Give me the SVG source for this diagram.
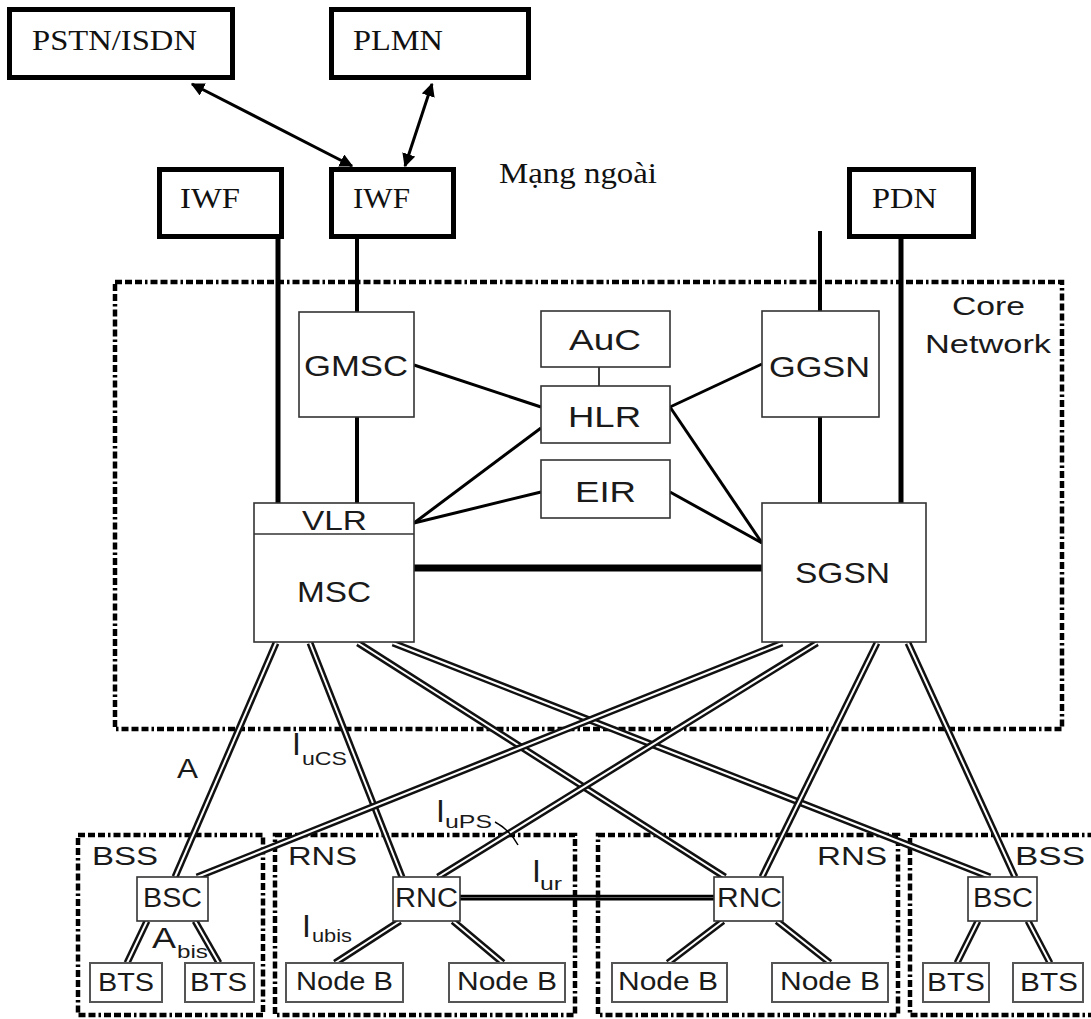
<svg xmlns="http://www.w3.org/2000/svg" width="1091" height="1019" viewBox="0 0 1091 1019">
<defs>
<style>
.ext { fill:#fff; stroke:#000; stroke-width:5; }
.serif { font-family:"Liberation Serif","Times New Roman",serif; font-size:29px; fill:#111; }
.sans { font-family:"Liberation Sans",Arial,sans-serif; fill:#1a1a1a; }
.big { font-size:30px; }
.mid { font-size:27px; }
.lbl { font-size:26px; }
.sub { font-size:18px; }
.iface { font-size:32px; }
.node { fill:#fff; stroke:#333; stroke-width:1.6; }
.leaf { fill:#fff; stroke:#555; stroke-width:2; }
.zone { fill:none; stroke:#000; stroke-width:4.5; stroke-dasharray:7 3 7 3 7 3 2.5 3; }
.link { stroke:#000; fill:none; }
.rail-o { stroke:#111; stroke-width:7; fill:none; }
.rail-i { stroke:#fff; stroke-width:2; fill:none; }
</style>
<marker id="ah" viewBox="0 0 10 10" refX="9" refY="5" markerWidth="4.5" markerHeight="4.5" orient="auto-start-reverse">
<path d="M0,0 L10,5 L0,10 z" fill="#000"/>
</marker>
<!-- rail (double-line) interfaces -->
<path id="r1" d="M276,643 L175,877"/>
<path id="r2" d="M310,643 L402,877"/>
<path id="r3" d="M358,643 L725,877"/>
<path id="r4" d="M393,643 L990,877"/>
<path id="r5" d="M782,643 L197,877"/>
<path id="r6" d="M817,643 L438,877"/>
<path id="r7" d="M877,643 L762,877"/>
<path id="r8" d="M908,643 L1015,877"/>
<path id="b1" d="M147,921 L127,963"/>
<path id="b2" d="M195,921 L219,963"/>
<path id="b3" d="M400,921 L335,963"/>
<path id="b4" d="M453,921 L503,963"/>
<path id="b5" d="M723,921 L668,963"/>
<path id="b6" d="M777,921 L830,963"/>
<path id="b7" d="M978,921 L957,963"/>
<path id="b8" d="M1028,921 L1050,963"/>
</defs>

<rect width="1091" height="1019" fill="#fff"/>

<!-- domain boundaries -->
<g id="zones">
<rect class="zone" x="115" y="282" width="947" height="447"/>
<rect class="zone" x="78" y="835" width="185" height="180"/>
<rect class="zone" x="275" y="835" width="300" height="180"/>
<rect class="zone" x="598" y="835" width="300" height="180"/>
<rect class="zone" x="910" y="835" width="190" height="180"/>
<text class="sans lbl" x="952" y="315" textLength="73" lengthAdjust="spacingAndGlyphs">Core</text>
<text class="sans lbl" x="925" y="353" textLength="126" lengthAdjust="spacingAndGlyphs">Network</text>
<text class="sans lbl" x="92" y="865" textLength="66" lengthAdjust="spacingAndGlyphs">BSS</text>
<text class="sans lbl" x="288" y="865" textLength="69" lengthAdjust="spacingAndGlyphs">RNS</text>
<text class="sans lbl" x="817" y="865" textLength="70" lengthAdjust="spacingAndGlyphs">RNS</text>
<text class="sans lbl" x="1015" y="865" textLength="70" lengthAdjust="spacingAndGlyphs">BSS</text>
<text class="serif" x="499" y="183" textLength="158" lengthAdjust="spacingAndGlyphs">Mạng ngoài</text>
</g>

<!-- connectors -->
<g id="connectors">
<path class="link" stroke-width="3" marker-start="url(#ah)" marker-end="url(#ah)" d="M192,84 L352,166"/>
<path class="link" stroke-width="3" marker-start="url(#ah)" marker-end="url(#ah)" d="M432,84 L405,166"/>
<path class="link" stroke-width="5" d="M278,239 V503"/>
<path class="link" stroke-width="4" d="M357,239 V312"/>
<path class="link" stroke-width="4" d="M357,417 V503"/>
<path class="link" stroke-width="4" d="M820,231 V311"/>
<path class="link" stroke-width="4" d="M820,417 V503"/>
<path class="link" stroke-width="5" d="M901,239 V503"/>
<path class="link" stroke-width="3" d="M414,365 L541,407"/>
<path class="link" stroke-width="3" d="M541,428 L414,523"/>
<path class="link" stroke-width="3" d="M541,492 L414,523"/>
<path class="link" stroke-width="3" d="M670,407 L762,364"/>
<path class="link" stroke-width="3" d="M670,407 L762,543"/>
<path class="link" stroke-width="3" d="M670,492 L762,543"/>
<path class="link" stroke-width="1.5" d="M599,367 V386"/>
<path class="link" stroke-width="7" d="M414,568 H762"/>
<!-- Iur -->
<path class="link" stroke="#777" stroke-width="3" d="M460,899 H714"/>
<path class="link" stroke-width="2.5" d="M460,896 H714"/>
<!-- rails -->
<use href="#r1" class="rail-o"/><use href="#r1" class="rail-i"/>
<use href="#r2" class="rail-o"/><use href="#r2" class="rail-i"/>
<use href="#r3" class="rail-o"/><use href="#r3" class="rail-i"/>
<use href="#r4" class="rail-o"/><use href="#r4" class="rail-i"/>
<use href="#r5" class="rail-o"/><use href="#r5" class="rail-i"/>
<use href="#r6" class="rail-o"/><use href="#r6" class="rail-i"/>
<use href="#r7" class="rail-o"/><use href="#r7" class="rail-i"/>
<use href="#r8" class="rail-o"/><use href="#r8" class="rail-i"/>
<use href="#b1" class="rail-o"/><use href="#b1" class="rail-i"/>
<use href="#b2" class="rail-o"/><use href="#b2" class="rail-i"/>
<use href="#b3" class="rail-o"/><use href="#b3" class="rail-i"/>
<use href="#b4" class="rail-o"/><use href="#b4" class="rail-i"/>
<use href="#b5" class="rail-o"/><use href="#b5" class="rail-i"/>
<use href="#b6" class="rail-o"/><use href="#b6" class="rail-i"/>
<use href="#b7" class="rail-o"/><use href="#b7" class="rail-i"/>
<use href="#b8" class="rail-o"/><use href="#b8" class="rail-i"/>
<!-- leader for IuPS -->
<path class="link" stroke-width="1.5" d="M495,822 Q510,830 518,845"/>
<!-- interface labels -->
<text class="sans" style="font-size:28px" x="177" y="778" textLength="21" lengthAdjust="spacingAndGlyphs">A</text>
<text class="sans"><tspan class="iface" x="292" y="755">I</tspan><tspan class="sub" x="302" y="765" textLength="45" lengthAdjust="spacingAndGlyphs">uCS</tspan></text>
<text class="sans"><tspan class="iface" x="436" y="822">I</tspan><tspan class="sub" x="445" y="828" textLength="47" lengthAdjust="spacingAndGlyphs">uPS</tspan></text>
<text class="sans"><tspan class="iface" x="532" y="882">I</tspan><tspan class="sub" x="540" y="890" textLength="22" lengthAdjust="spacingAndGlyphs">ur</tspan></text>
<text class="sans"><tspan class="iface" x="302" y="937">I</tspan><tspan class="sub" x="312" y="942" textLength="40" lengthAdjust="spacingAndGlyphs">ubis</tspan></text>
<text class="sans"><tspan style="font-size:29px" x="152" y="948" textLength="24" lengthAdjust="spacingAndGlyphs">A</tspan><tspan class="sub" x="177" y="958" textLength="31" lengthAdjust="spacingAndGlyphs">bis</tspan></text>
</g>

<!-- external networks -->
<g id="pstn"><rect class="ext" x="9.5" y="9.5" width="223" height="68"/><text class="serif" x="32" y="50" textLength="165" lengthAdjust="spacingAndGlyphs">PSTN/ISDN</text></g>
<g id="plmn"><rect class="ext" x="331.5" y="9.5" width="197" height="68"/><text class="serif" x="353" y="50" textLength="90" lengthAdjust="spacingAndGlyphs">PLMN</text></g>
<g id="iwf1"><rect class="ext" x="159.5" y="169.5" width="122" height="67"/><text class="serif" x="180" y="208" textLength="60" lengthAdjust="spacingAndGlyphs">IWF</text></g>
<g id="iwf2"><rect class="ext" x="331.5" y="169.5" width="122" height="67"/><text class="serif" x="353" y="208" textLength="57" lengthAdjust="spacingAndGlyphs">IWF</text></g>
<g id="pdn"><rect class="ext" x="849.5" y="169.5" width="124" height="67"/><text class="serif" x="872" y="208" textLength="65" lengthAdjust="spacingAndGlyphs">PDN</text></g>

<!-- core network elements -->
<g id="gmsc"><rect class="node" x="299" y="312" width="115" height="105"/><text class="sans big" x="304" y="376" textLength="104" lengthAdjust="spacingAndGlyphs">GMSC</text></g>
<g id="msc"><rect class="node" x="254" y="503" width="160" height="139"/><line x1="254" y1="534" x2="414" y2="534" stroke="#333" stroke-width="1.6"/><text class="sans mid" x="302" y="530" textLength="65" lengthAdjust="spacingAndGlyphs">VLR</text><text class="sans big" x="297" y="602" textLength="74" lengthAdjust="spacingAndGlyphs">MSC</text></g>
<g id="auc"><rect class="node" x="541" y="311" width="129" height="56"/><text class="sans big" x="569" y="350" textLength="72" lengthAdjust="spacingAndGlyphs">AuC</text></g>
<g id="hlr"><rect class="node" x="541" y="386" width="129" height="57"/><text class="sans big" x="568" y="427" textLength="73" lengthAdjust="spacingAndGlyphs">HLR</text></g>
<g id="eir"><rect class="node" x="541" y="460" width="129" height="58"/><text class="sans big" x="575" y="502" textLength="61" lengthAdjust="spacingAndGlyphs">EIR</text></g>
<g id="ggsn"><rect class="node" x="762" y="311" width="117" height="106"/><text class="sans big" x="769" y="377" textLength="101" lengthAdjust="spacingAndGlyphs">GGSN</text></g>
<g id="sgsn"><rect class="node" x="762" y="503" width="164" height="139"/><text class="sans big" x="795" y="583" textLength="95" lengthAdjust="spacingAndGlyphs">SGSN</text></g>

<!-- access network elements -->
<g id="bsc1"><rect class="node" x="137" y="877" width="71" height="44"/><text class="sans mid" x="143" y="907" textLength="59" lengthAdjust="spacingAndGlyphs">BSC</text></g>
<g id="rnc1"><rect class="node" x="393" y="877" width="67" height="44"/><text class="sans mid" x="395" y="907" textLength="63" lengthAdjust="spacingAndGlyphs">RNC</text></g>
<g id="rnc2"><rect class="node" x="714" y="877" width="69" height="44"/><text class="sans mid" x="717" y="907" textLength="65" lengthAdjust="spacingAndGlyphs">RNC</text></g>
<g id="bsc2"><rect class="node" x="968" y="877" width="69" height="44"/><text class="sans mid" x="973" y="907" textLength="60" lengthAdjust="spacingAndGlyphs">BSC</text></g>
<g id="bts1"><rect class="leaf" x="90" y="963" width="72" height="39"/><text class="sans lbl" x="98" y="991" textLength="56" lengthAdjust="spacingAndGlyphs">BTS</text></g>
<g id="bts2"><rect class="leaf" x="185" y="963" width="69" height="39"/><text class="sans lbl" x="190" y="991" textLength="57" lengthAdjust="spacingAndGlyphs">BTS</text></g>
<g id="nodeb1"><rect class="leaf" x="286" y="963" width="117" height="39"/><text class="sans lbl" x="296" y="990" textLength="97" lengthAdjust="spacingAndGlyphs">Node B</text></g>
<g id="nodeb2"><rect class="leaf" x="449" y="963" width="116" height="39"/><text class="sans lbl" x="457" y="990" textLength="100" lengthAdjust="spacingAndGlyphs">Node B</text></g>
<g id="nodeb3"><rect class="leaf" x="612" y="963" width="115" height="39"/><text class="sans lbl" x="618" y="990" textLength="100" lengthAdjust="spacingAndGlyphs">Node B</text></g>
<g id="nodeb4"><rect class="leaf" x="772" y="963" width="116" height="39"/><text class="sans lbl" x="780" y="990" textLength="100" lengthAdjust="spacingAndGlyphs">Node B</text></g>
<g id="bts3"><rect class="leaf" x="923" y="963" width="66" height="39"/><text class="sans lbl" x="927" y="991" textLength="58" lengthAdjust="spacingAndGlyphs">BTS</text></g>
<g id="bts4"><rect class="leaf" x="1013" y="963" width="70" height="39"/><text class="sans lbl" x="1020" y="991" textLength="58" lengthAdjust="spacingAndGlyphs">BTS</text></g>
</svg>
